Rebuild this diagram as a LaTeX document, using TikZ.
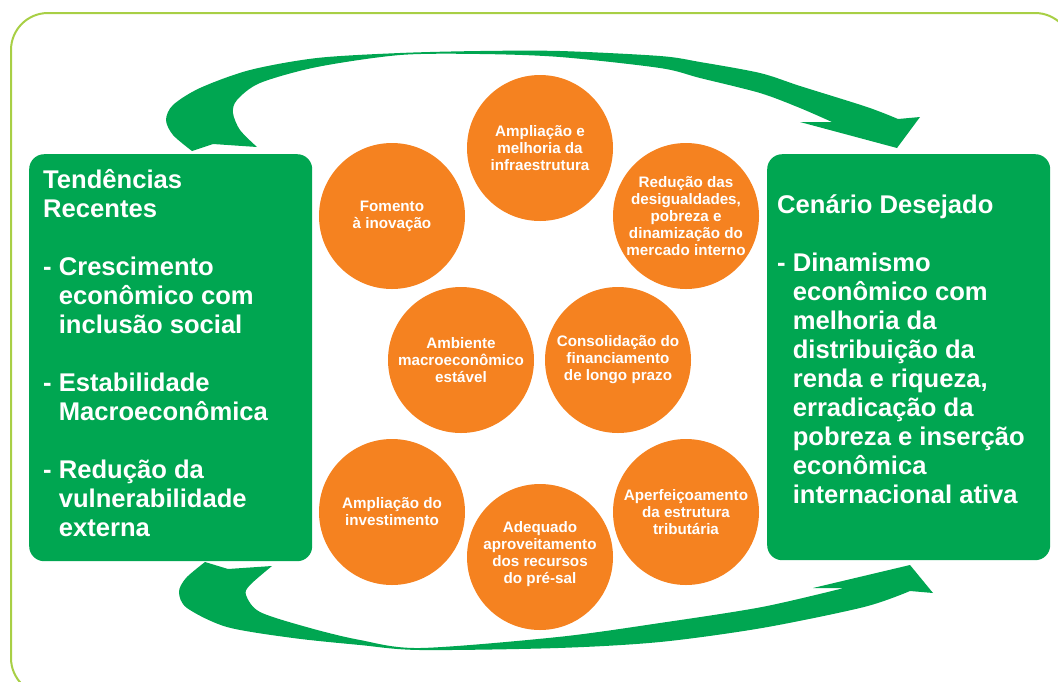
\documentclass[tikz,border=0pt]{standalone}
\usepackage{fontspec}
\setmainfont{Liberation Sans}
\definecolor{dgreen}{HTML}{00A651}
\definecolor{dorange}{HTML}{F58220}
\definecolor{framegreen}{HTML}{A8CF45}
\begin{document}
\begin{tikzpicture}[x=1pt,y=-1pt,
  bubble/.style={circle, fill=dorange, minimum size=146pt, inner sep=0pt, text=white,
    font=\bfseries\fontsize{15.2}{17}\selectfont, align=center},
  panel/.style={fill=dgreen, rounded corners=15pt, anchor=north west, inner sep=0pt},
  paneltext/.style={text=white, font=\bfseries\fontsize{25.6}{29}\selectfont, align=left,
    anchor=north west, inner sep=0pt},
  swoosh/.style={fill=dgreen}]
\useasboundingbox (0,0) rectangle (1058,681);
\clip (0,0) rectangle (1058,681);
% frame
\draw[framegreen, line width=2pt, rounded corners=37pt] (11,13) rectangle (1072,695);
% top swoosh arrow
\fill[swoosh] plot[smooth] coordinates {(192,151) (173,135) (166,120) (173,105) (200,88) (250,70) (317,58) (400,53) (480,51) (560,51) (660,56) (700,62) (760,73) (800,86) (867,107) (898,119)}
  -- (920,117) -- (897,148) -- (800,122)
  -- plot[smooth] coordinates {(832,122) (800,108) (760,93) (700,78) (660,68) (560,57) (480,54) (400,55) (317,67) (260,83) (237,100) (233,113) (240,130) (257,147)}
  -- (213,144) -- cycle;
% bottom swoosh arrow
\fill[swoosh] plot[smooth] coordinates {(205,562) (186,578) (179,592) (187,608) (227,627) (293,638) (360,645) (420,650) (558,648) (660,642) (762,628) (864,607) (910,591)}
  -- (933,593) -- (910,565) -- (813,588)
  -- plot[smooth] coordinates {(844,588) (762,607) (660,623) (558,637) (420,648) (360,640) (310,628) (260,612) (246,595) (250,585) (272,566)}
  -- (228,569) -- cycle;
% panels
\node[panel, minimum width=283pt, minimum height=407pt] (leftpanel) at (29,154) {};
\node[panel, minimum width=283pt, minimum height=406pt] (rightpanel) at (767,154) {};
\node[paneltext] (lefttext) at (43,166) {\rule{0pt}{22pt}Tendências\\Recentes\\[29pt]%
- Crescimento\\\phantom{- }econômico com\\\phantom{- }inclusão social\\[29pt]%
- Estabilidade\\\phantom{- }Macroeconômica\\[29pt]%
- Redução da\\\phantom{- }vulnerabilidade\\\phantom{- }externa};
\node[paneltext] (righttext) at (777,191) {\rule{0pt}{22pt}Cenário Desejado\\[29pt]%
- Dinamismo\\\phantom{- }econômico com\\\phantom{- }melhoria da\\\phantom{- }distribuição da\\%
\phantom{- }renda e riqueza,\\\phantom{- }erradicação da\\\phantom{- }pobreza e inserção\\%
\phantom{- }econômica\\\phantom{- }internacional ativa};
% circles
\node[bubble] (infra) at (540,148) {Ampliação e\\melhoria da\\infraestrutura};
\node[bubble] (desig) at (686,216) {Redução das\\desigualdades,\\pobreza e\\dinamização do\\mercado interno};
\node[bubble] (inov) at (392,216) {Fomento\\à inovação};
\node[bubble] (macro) at (461,360) {Ambiente\\macroeconômico\\estável};
\node[bubble] (financ) at (618,360) {Consolidação do\\financiamento\\de longo prazo};
\node[bubble] (invest) at (392,512) {Ampliação do\\investimento};
\node[bubble] (presal) at (540,557) {Adequado\\aproveitamento\\dos recursos\\do pré-sal\\[-8pt]\mbox{}};
\node[bubble] (trib) at (686,512) {Aperfeiçoamento\\da estrutura\\tributária};
\end{tikzpicture}
\end{document}
